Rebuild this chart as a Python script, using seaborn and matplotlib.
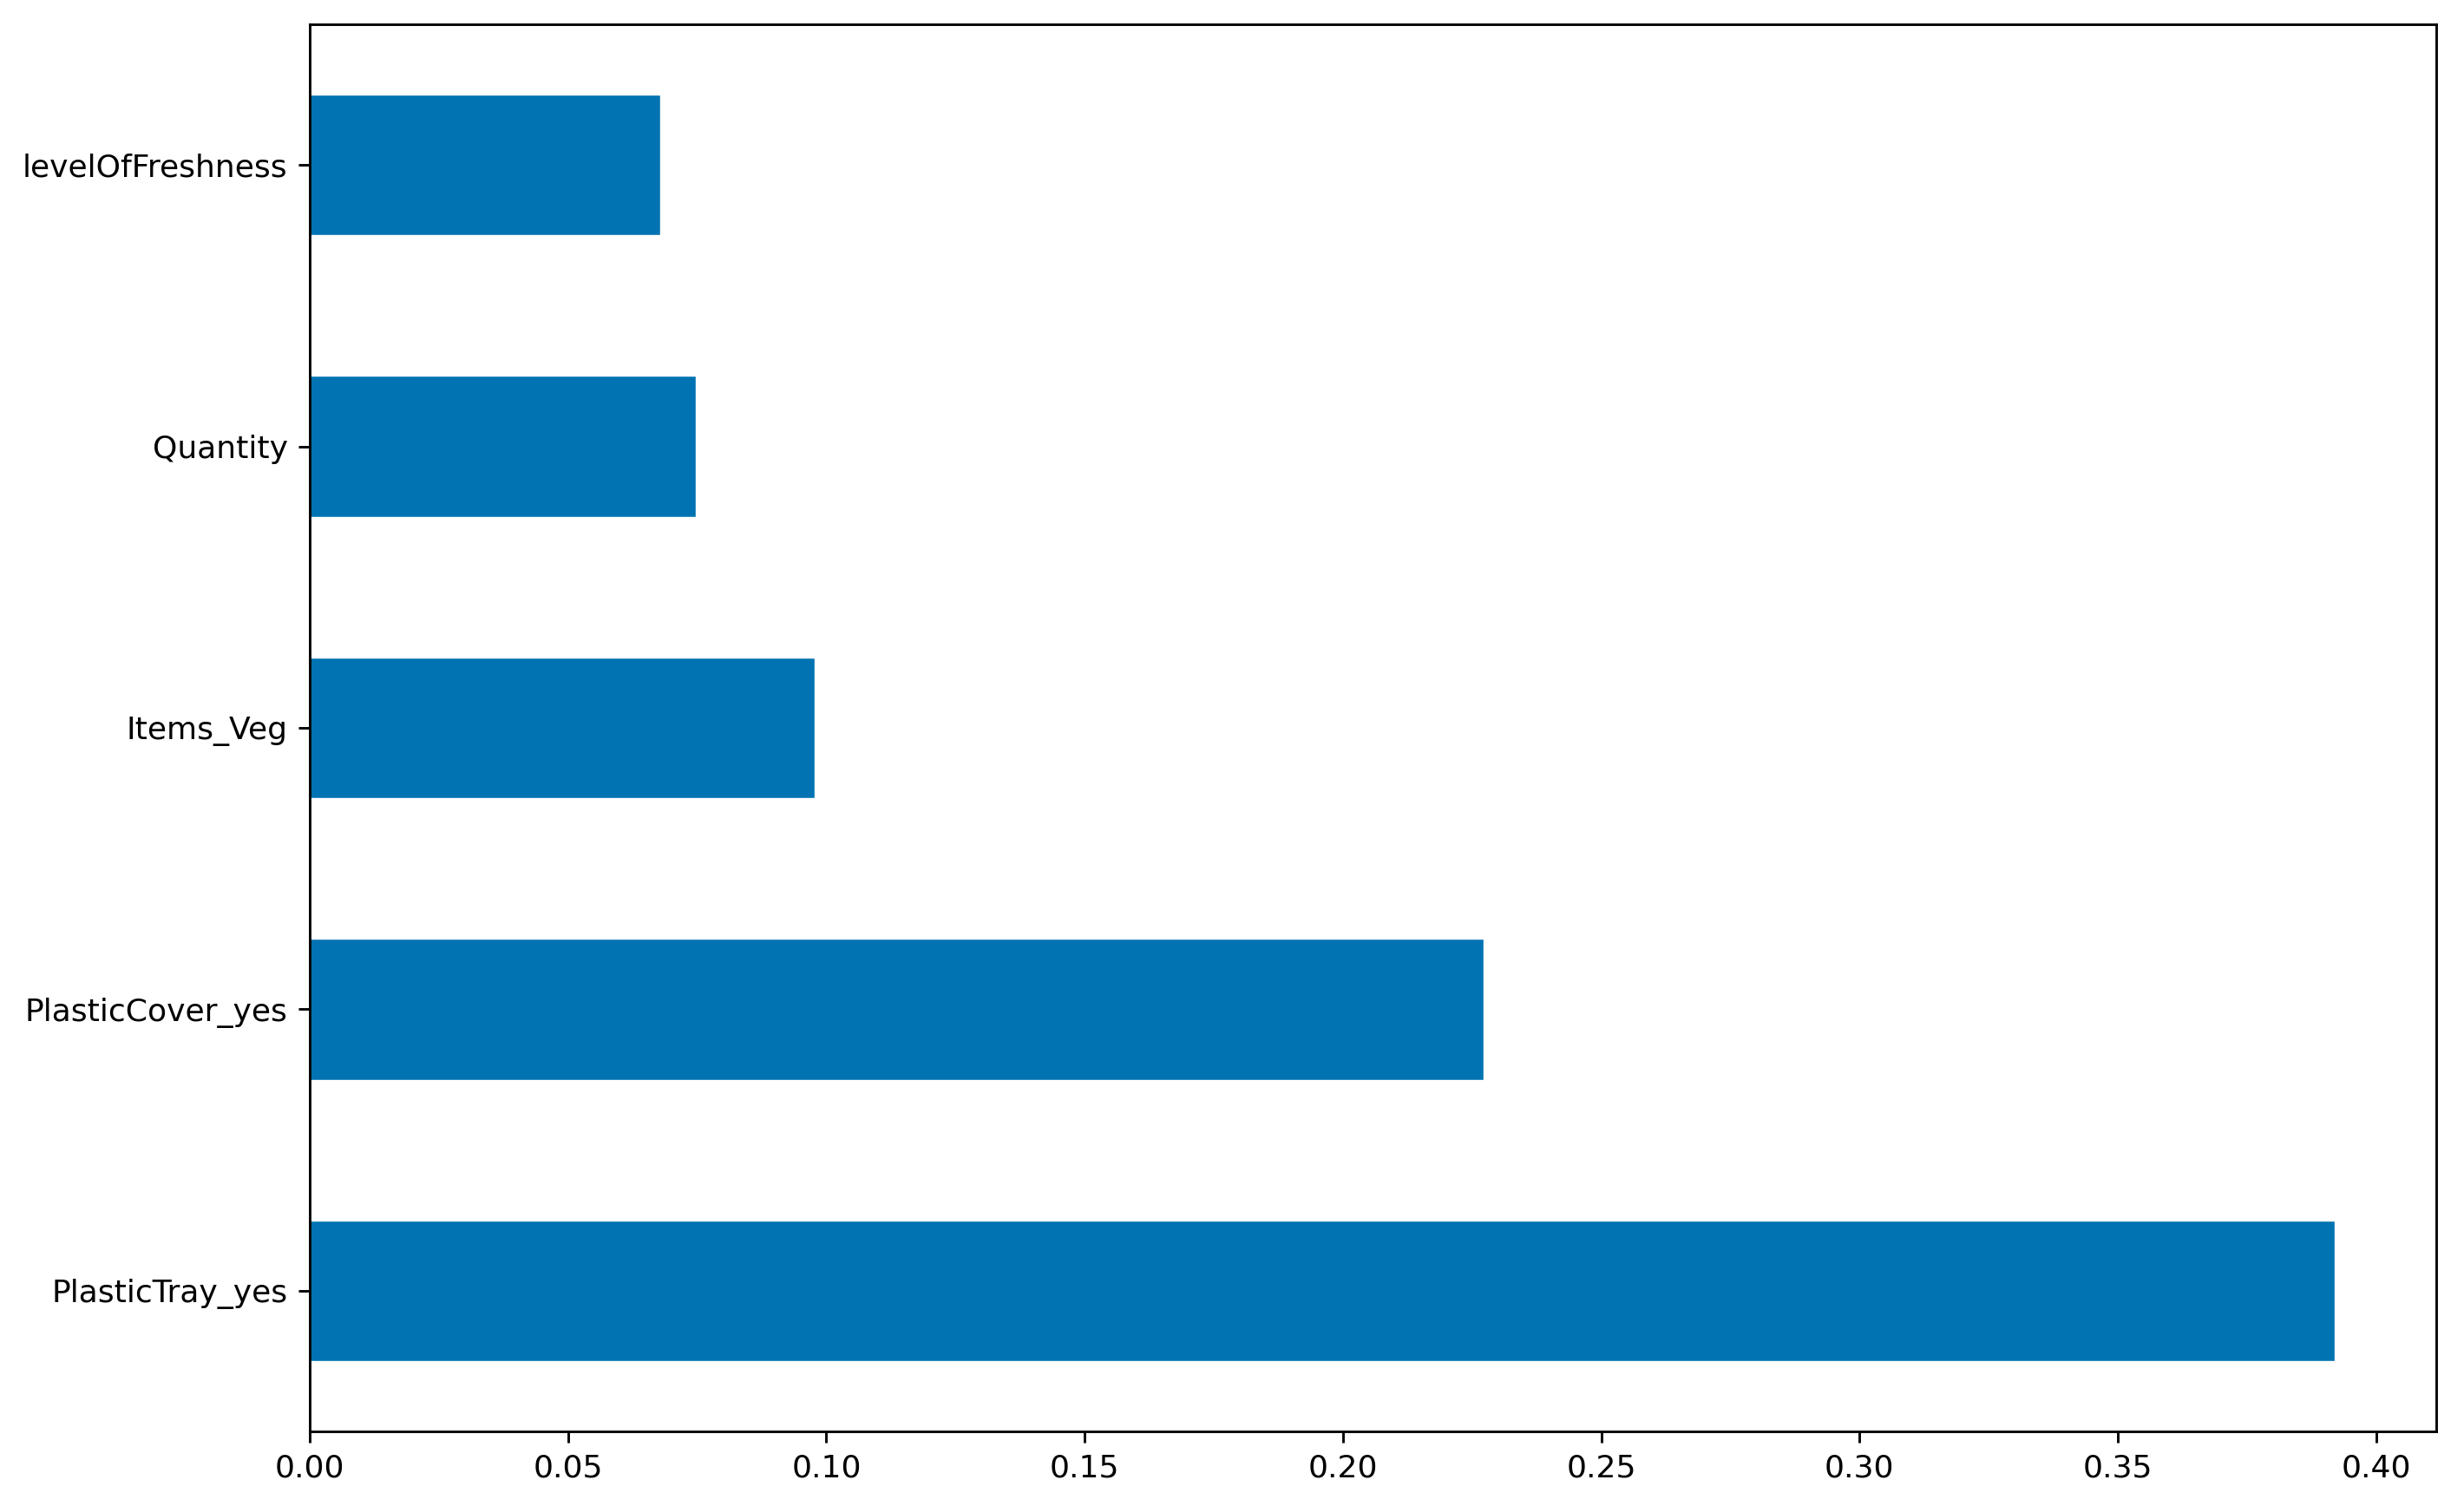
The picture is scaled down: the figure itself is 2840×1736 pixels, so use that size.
import matplotlib
matplotlib.use("Agg")
import matplotlib.pyplot as plt
import seaborn as sns
import pandas as pd

features = ["levelOfFreshness", "Quantity", "Items_Veg", "PlasticCover_yes", "PlasticTray_yes"]
importance = [0.0679, 0.0747, 0.0977, 0.2273, 0.3920]

df = pd.DataFrame({"feature": features, "importance": importance})

sns.set_style("ticks")
plt.rcParams["font.family"] = ["DejaVu Sans"]

s = 2.6
fig = plt.figure(figsize=(28.4, 17.36), dpi=100)
ax = fig.add_axes([0.1257, 0.0495, 0.9887 - 0.1257, 0.9839 - 0.0495])

color = sns.color_palette("colorblind")[0]
sns.barplot(data=df, x="importance", y="feature", orient="h", color=color,
            width=0.5, saturation=1, ax=ax)

ax.set_xlim(0, max(importance) * 1.05)
ax.set_ylim(len(features) - 0.5, -0.5)
ax.set_xticks([0.0, 0.05, 0.10, 0.15, 0.20, 0.25, 0.30, 0.35, 0.40])
ax.set_xticklabels(["0.00", "0.05", "0.10", "0.15", "0.20", "0.25", "0.30", "0.35", "0.40"])
ax.set_xlabel("")
ax.set_ylabel("")
for sp in ax.spines.values():
    sp.set_visible(True)
    sp.set_linewidth(0.8 * s)
    sp.set_color("black")
ax.tick_params(axis="both", labelsize=10 * s, length=3.5 * s, width=0.8 * s,
               pad=3.5 * s, colors="black", labelcolor="black")

fig.savefig("out.png", dpi=100, facecolor="white")
